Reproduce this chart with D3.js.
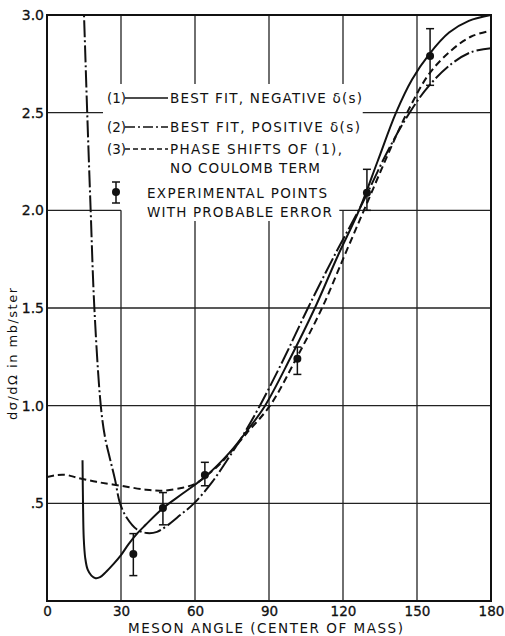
<!DOCTYPE html>
<html>
<head>
<meta charset="utf-8">
<script src="https://cdn.jsdelivr.net/npm/d3@7"></script>
<style>
  body { margin: 0; background: #fff; }
  text { font-family: "DejaVu Sans", sans-serif; fill: #111; }
</style>
</head>
<body>
<div id="chart"></div>
<script>
// curve (1): best fit, negative delta(s) -- [angle, dsigma/dOmega]
const fitNegative = [
  [14.4, 0.72], [14.6, 0.5], [14.9, 0.32], [15.5, 0.22], [16.5, 0.16], [18, 0.13],
  [19.7, 0.117], [21.5, 0.122], [24, 0.15], [27, 0.19], [30, 0.235], [33, 0.29],
  [36.5, 0.345], [40, 0.39], [47, 0.475], [55, 0.55], [64, 0.635], [74, 0.76],
  [81, 0.87], [88.4, 1.0], [98.5, 1.24], [108.6, 1.5], [118, 1.77], [126.5, 2.0],
  [134, 2.25], [141.5, 2.5], [148, 2.67], [155, 2.8], [163, 2.91], [171, 2.97], [180, 3.0]
];
// curve (2): best fit, positive delta(s)
const fitPositive = [
  [14.7, 3.1], [15, 3.0], [16.3, 2.5], [17.7, 2.0], [19.2, 1.5], [21.8, 1.0],
  [23.5, 0.84], [25.5, 0.73], [27.6, 0.62], [29.6, 0.5], [32.4, 0.425], [36.5, 0.366],
  [40.5, 0.348], [44.6, 0.354], [48.6, 0.385], [54, 0.44], [59.6, 0.5], [67, 0.61],
  [74, 0.74], [80, 0.86], [86.3, 1.0], [96, 1.24], [105.8, 1.5], [117, 1.78],
  [128, 2.04], [138, 2.3], [147, 2.5], [155, 2.64], [164, 2.75], [172, 2.81], [180, 2.83]
];
// curve (3): phase shifts of (1), no Coulomb term
const noCoulomb = [
  [0, 0.635], [4, 0.645], [8, 0.645], [12, 0.632], [20, 0.61], [30, 0.59], [40, 0.57],
  [47, 0.565], [55, 0.58], [60, 0.6], [65, 0.645], [70, 0.7], [75, 0.77], [81, 0.86],
  [90.4, 1.0], [101, 1.24], [111.5, 1.5], [121, 1.78], [129.5, 2.03], [138, 2.28],
  [146, 2.5], [155, 2.7], [164, 2.82], [172, 2.89], [180, 2.92]
];
// experimental points with probable error
const expAngle = [35, 47, 64, 101.5, 129.7, 155.3];
const expValue = [0.24, 0.476, 0.645, 1.24, 2.09, 2.79];
const expLow   = [0.13, 0.39, 0.59, 1.16, 2.0, 2.64];
const expHigh  = [0.345, 0.555, 0.71, 1.30, 2.21, 2.93];

const xTicks = [0, 30, 60, 90, 120, 150, 180];
const yTicks = [0.5, 1.0, 1.5, 2.0, 2.5, 3.0];
const yTickLabels = [".5", "1.0", "1.5", "2.0", "2.5", "3.0"];

const W = 505, H = 636;
const m = { top: 15, left: 47, right: 14, bottom: 35 };
const iw = W - m.left - m.right, ih = H - m.top - m.bottom;

const svg = d3.select("#chart").append("svg").attr("width", W).attr("height", H);
const g = svg.append("g").attr("transform", `translate(${m.left},${m.top})`);

const x = d3.scaleLinear().domain([0, 180]).range([0, iw]);
const y = d3.scaleLinear().domain([0, 3]).range([ih, 0]);

// grid lines (broken where the legend sits)
const vGrid = [
  { v: 30, segs: [[0, 2.0], [2.647, 3]] },
  { v: 60, segs: [[0, 1.945], [2.647, 3]] },
  { v: 90, segs: [[0, 1.945], [2.647, 3]] },
  { v: 120, segs: [[0, 2.0], [2.647, 3]] },
  { v: 150, segs: [[0, 3]] }
];
const hGrid = [
  { v: 0.5, segs: [[0, 180]] },
  { v: 1.0, segs: [[0, 180]] },
  { v: 1.5, segs: [[0, 180]] },
  { v: 2.0, segs: [[0, 30], [118.5, 180]] },
  { v: 2.5, segs: [[0, 22.7], [128, 180]] }
];
vGrid.forEach(d => d.segs.forEach(s => {
  g.append("line").attr("x1", x(d.v)).attr("x2", x(d.v))
    .attr("y1", y(s[0])).attr("y2", y(s[1]))
    .attr("stroke", "#222").attr("stroke-width", 1.3);
}));
hGrid.forEach(d => d.segs.forEach(s => {
  g.append("line").attr("x1", x(s[0])).attr("x2", x(s[1]))
    .attr("y1", y(d.v)).attr("y2", y(d.v))
    .attr("stroke", "#222").attr("stroke-width", 1.3);
}));

// frame
g.append("rect").attr("width", iw).attr("height", ih)
  .attr("fill", "none").attr("stroke", "#111").attr("stroke-width", 2);

// axes labels
const xAxis = d3.axisBottom(x).tickValues(xTicks).tickSize(0).tickPadding(5).tickFormat(d3.format("d"));
const gx = g.append("g").attr("transform", `translate(0,${ih})`).call(xAxis);
gx.select(".domain").remove();
gx.selectAll("text").attr("font-size", 13.5).attr("font-family", "DejaVu Sans")
  .attr("fill", "#111").attr("stroke", "#111").attr("stroke-width", 0.3);

const yAxis = d3.axisLeft(y).tickValues(yTicks).tickSize(0).tickPadding(3)
  .tickFormat((d, i) => yTickLabels[i]);
const gy = g.append("g").call(yAxis);
gy.select(".domain").remove();
gy.selectAll("text").attr("font-size", 14).attr("font-family", "DejaVu Sans")
  .attr("fill", "#111").attr("stroke", "#111").attr("stroke-width", 0.3);

svg.append("text").attr("x", 128).attr("y", 633).attr("font-size", 13.5)
  .attr("textLength", 275).attr("lengthAdjust", "spacing")
  .text("MESON ANGLE (CENTER OF MASS)");

svg.append("text").attr("transform", "translate(17,354) rotate(-90)")
  .attr("text-anchor", "middle").attr("font-size", 13)
  .attr("textLength", 132).attr("lengthAdjust", "spacing")
  .text("dσ/dΩ in mb/ster");

// curves
const clip = svg.append("clipPath").attr("id", "plotclip");
clip.append("rect").attr("width", iw).attr("height", ih);
const plot = g.append("g").attr("clip-path", "url(#plotclip)");
const line = d3.line().x(d => x(d[0])).y(d => y(d[1])).curve(d3.curveCatmullRom.alpha(0.5));

const series = [
  { data: fitNegative, dash: null },
  { data: fitPositive, dash: "17,3,2,3" },
  { data: noCoulomb, dash: "7,4" }
];
series.forEach(s => {
  plot.append("path").datum(s.data).attr("d", line)
    .attr("fill", "none").attr("stroke", "#111").attr("stroke-width", 2)
    .attr("stroke-dasharray", s.dash);
});

// experimental points
expAngle.forEach((a, i) => {
  const px = x(a);
  g.append("line").attr("x1", px).attr("x2", px).attr("y1", y(expLow[i])).attr("y2", y(expHigh[i]))
    .attr("stroke", "#111").attr("stroke-width", 1.5);
  [expLow[i], expHigh[i]].forEach(v => {
    g.append("line").attr("x1", px - 4).attr("x2", px + 4).attr("y1", y(v)).attr("y2", y(v))
      .attr("stroke", "#111").attr("stroke-width", 1.5);
  });
  g.append("circle").attr("cx", px).attr("cy", y(expValue[i])).attr("r", 4).attr("fill", "#111");
});

// legend
const legend = svg.append("g");
const legendRows = [
  { label: "(1)", dash: null, text: "BEST FIT, NEGATIVE δ(s)", yb: 103, w: 192 },
  { label: "(2)", dash: "10,3,2,3", text: "BEST FIT, POSITIVE δ(s)", yb: 132, w: 190 },
  { label: "(3)", dash: "5,3", text: "PHASE SHIFTS OF (1),", yb: 154, w: 172 }
];
legendRows.forEach(r => {
  legend.append("text").attr("x", 107).attr("y", r.yb).attr("font-size", 13.5).text(r.label);
  legend.append("line").attr("x1", 125).attr("x2", 168).attr("y1", r.yb - 5).attr("y2", r.yb - 5)
    .attr("stroke", "#111").attr("stroke-width", 1.5).attr("stroke-dasharray", r.dash);
  legend.append("text").attr("x", 170).attr("y", r.yb).attr("font-size", 13.5)
    .attr("textLength", r.w).attr("lengthAdjust", "spacing").text(r.text);
});
legend.append("text").attr("x", 170).attr("y", 173).attr("font-size", 13.5)
  .attr("textLength", 150).attr("lengthAdjust", "spacing").text("NO COULOMB TERM");
legend.append("text").attr("x", 147).attr("y", 198).attr("font-size", 13.5)
  .attr("textLength", 180).attr("lengthAdjust", "spacing").text("EXPERIMENTAL POINTS");
legend.append("text").attr("x", 147).attr("y", 217).attr("font-size", 13.5)
  .attr("textLength", 185).attr("lengthAdjust", "spacing").text("WITH PROBABLE ERROR");
legend.append("line").attr("x1", 116).attr("x2", 116).attr("y1", 182).attr("y2", 203)
  .attr("stroke", "#111").attr("stroke-width", 1.5);
[182, 203].forEach(v => legend.append("line").attr("x1", 112).attr("x2", 120)
  .attr("y1", v).attr("y2", v).attr("stroke", "#111").attr("stroke-width", 1.5));
legend.append("circle").attr("cx", 116).attr("cy", 192).attr("r", 4).attr("fill", "#111");
</script>
</body>
</html>
